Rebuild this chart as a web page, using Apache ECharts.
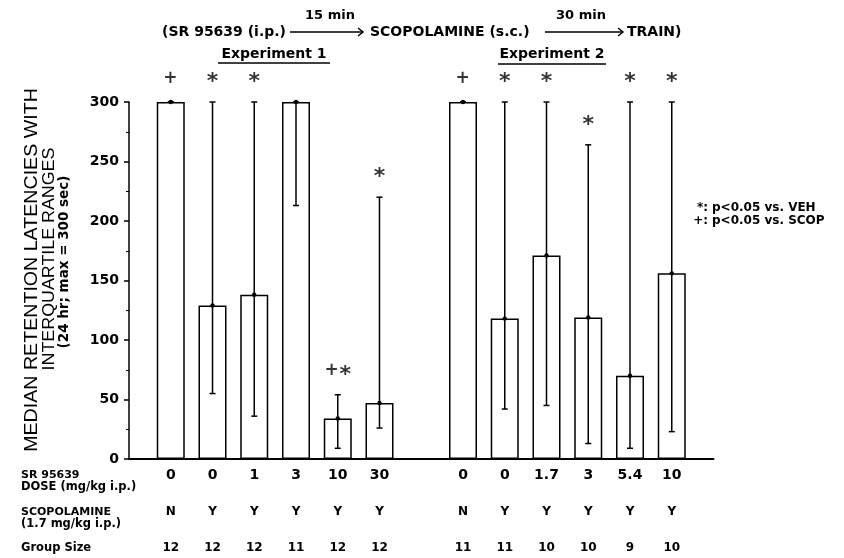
<!DOCTYPE html>
<html>
<head>
<meta charset="utf-8">
<script src="https://cdn.jsdelivr.net/npm/echarts@6/dist/echarts.min.js"></script>
<style>
  html, body { margin: 0; padding: 0; background: #fff; }
  #chart { width: 844px; height: 558px; }
</style>
</head>
<body>
<div id="chart"></div>
<script>
// groups: experiment 1 (first six) then experiment 2
const doses = ['0', '0', '1', '3', '10', '30', '0', '0', '1.7', '3', '5.4', '10'];
const scopolamine = ['N', 'Y', 'Y', 'Y', 'Y', 'Y', 'N', 'Y', 'Y', 'Y', 'Y', 'Y'];
const groupSize = [12, 12, 12, 11, 12, 12, 11, 11, 10, 10, 9, 10];
const medians = [300, 129, 138, 300, 34, 47, 300, 118, 171, 119, 70, 156];
const lowQ = [300, 55, 36, 213, 9, 26, 300, 42, 45, 13, 9, 23];
const highQ = [300, 300, 300, 300, 54, 220, 300, 300, 300, 264, 300, 300];
const signif = ['+', '*', '*', '', '+*', '*', '+', '*', '*', '*', '*', '*'];

// one empty slot between the two experiments
const slotOf = i => (i < 6 ? i + 1 : i + 2);
const FONT = 'DejaVu Sans';

const barData = medians.map((m, i) => [slotOf(i), m]);
const errData = medians.map((m, i) => [slotOf(i), lowQ[i], highQ[i], m]);
const sigData = signif.map((s, i) => [slotOf(i), highQ[i] + 20, s]);

// x position -> index of group (for the table under the axis)
const groupAt = {};
medians.forEach((m, i) => { groupAt[slotOf(i)] = i; });

const chart = echarts.init(document.getElementById('chart'));

const txt = (x, y, text, size, extra) => ({
  type: 'text', x: x, y: y, silent: true,
  style: Object.assign({
    text: text, fontFamily: FONT, fontSize: size, fontWeight: 'bold',
    fill: '#000', textAlign: 'left', textVerticalAlign: 'middle'
  }, extra || {})
});
const seg = (x1, y1, x2, y2, w) => ({
  type: 'line', silent: true,
  shape: { x1: x1, y1: y1, x2: x2, y2: y2 },
  style: { stroke: '#000', lineWidth: w || 1.5 }
});
const head = (x, y) => ({
  type: 'polyline', silent: true,
  shape: { points: [[x - 5, y - 4], [x, y], [x - 5, y + 4]] },
  style: { stroke: '#000', lineWidth: 1.5, fill: null }
});
// rotated y axis title line, stretched a bit along its length like the print
const vtxt = (x, y, text, size, stretch, weight, family) => ({
  type: 'text', x: x, y: y, rotation: Math.PI / 2, scaleX: stretch, silent: true,
  style: { text: text, fontFamily: family, fontSize: size, fontWeight: weight,
    fill: '#000', textAlign: 'center', textVerticalAlign: 'middle' }
});

// '+' and '*' marks, the asterisk drawn bigger so it reads as a blob like the print
const markText = s => s.split('').map(c => (c === '*' ? '{s|*}' : '{p|+}')).join('');

const option = {
  animation: false,
  backgroundColor: '#fff',
  grid: { left: 129, right: 130.5, top: 102, bottom: 99 },
  xAxis: {
    type: 'value', min: 0, max: 14, interval: 1,
    splitLine: { show: false },
    axisTick: { show: false },
    axisLine: { lineStyle: { color: '#000', width: 2 } },
    axisLabel: {
      margin: 4,
      color: '#000',
      fontFamily: FONT,
      fontWeight: 'bold',
      formatter: v => {
        const i = groupAt[v];
        if (i === undefined) return '';
        return '{d|' + doses[i] + '}\n{s|' + scopolamine[i] + '}\n{g|' + groupSize[i] + '}';
      },
      rich: {
        d: { fontSize: 14, lineHeight: 24, fontFamily: FONT, fontWeight: 'bold' },
        s: { fontSize: 12, lineHeight: 50, fontFamily: FONT, fontWeight: 'bold' },
        g: { fontSize: 12, lineHeight: 22, fontFamily: FONT, fontWeight: 'bold' }
      }
    }
  },
  yAxis: {
    type: 'value', min: 0, max: 300, interval: 50,
    splitLine: { show: false },
    axisLine: { show: true, lineStyle: { color: '#000', width: 1.5 } },
    axisTick: { show: true, inside: false, length: 5, lineStyle: { color: '#000', width: 1.5 } },
    minorTick: { show: true, splitNumber: 2, length: 3, lineStyle: { color: '#000', width: 1 } },
    axisLabel: { color: '#000', fontFamily: FONT, fontWeight: 'bold', fontSize: 14, margin: 10 }
  },
  series: [
    {
      type: 'bar',
      data: barData,
      barWidth: 28,
      itemStyle: { color: '#fff', borderColor: '#000', borderWidth: 1.5 },
      z: 2
    },
    {
      type: 'custom',
      data: errData,
      z: 3,
      renderItem: (params, api) => {
        const x = api.coord([api.value(0), 0])[0];
        const yLo = api.coord([0, api.value(1)])[1];
        const yHi = api.coord([0, api.value(2)])[1];
        const yMed = api.coord([0, api.value(3)])[1];
        const st = { stroke: '#000', lineWidth: 1.5 };
        return {
          type: 'group',
          children: [
            { type: 'line', shape: { x1: x, y1: yLo, x2: x, y2: yHi }, style: st },
            { type: 'line', shape: { x1: x - 3, y1: yHi, x2: x + 3, y2: yHi }, style: st },
            { type: 'line', shape: { x1: x - 3, y1: yLo, x2: x + 3, y2: yLo }, style: st },
            { type: 'circle', shape: { cx: x, cy: yMed, r: 2.2 }, style: { fill: '#000' } }
          ]
        };
      }
    },
    {
      type: 'scatter',
      data: sigData,
      symbolSize: 0,
      clip: false,
      z: 4,
      label: {
        show: true,
        position: 'inside',
        formatter: p => markText(p.value[2]),
        color: '#000',
        rich: {
          p: { fontFamily: FONT, fontWeight: 'bold', fontSize: 17, color: '#000', padding: [0, 1, 0, 0] },
          s: { fontFamily: FONT, fontWeight: 'bold', fontSize: 22, color: '#000', padding: [8, 0, 0, 0] }
        }
      }
    }
  ],
  graphic: [
    // title line with the two timing arrows
    txt(162, 32, '(SR 95639 (i.p.)', 14),
    seg(290, 32, 362, 32),
    head(363, 32),
    txt(330, 16, '15 min', 13, { textAlign: 'center' }),
    txt(370, 32, 'SCOPOLAMINE (s.c.)', 14),
    seg(545, 32, 622, 32),
    head(623, 32),
    txt(581, 16, '30 min', 13, { textAlign: 'center' }),
    txt(627, 32, 'TRAIN)', 14),
    // experiment headings
    txt(274, 54, 'Experiment 1', 14, { textAlign: 'center' }),
    seg(218, 63, 330, 63),
    txt(552, 54, 'Experiment 2', 14, { textAlign: 'center' }),
    seg(498, 64, 606, 64),
    // y axis title
    vtxt(32, 270, 'MEDIAN RETENTION LATENCIES WITH', 18, 1.09, 'normal', 'Liberation Sans'),
    vtxt(49, 259, 'INTERQUARTILE RANGES', 17, 1.05, 'normal', 'Liberation Sans'),
    vtxt(64.5, 262, '(24 hr; max = 300 sec)', 13.5, 1, 'bold', FONT),
    // legend for the markers
    txt(708, 208, '*:', 12, { textAlign: 'right' }),
    txt(712, 208, 'p<0.05 vs. VEH', 12),
    txt(708, 221, '+:', 12, { textAlign: 'right' }),
    txt(712, 221, 'p<0.05 vs. SCOP', 12),
    // row labels of the table under the axis
    txt(21, 475, 'SR 95639', 11),
    txt(21, 487, 'DOSE (mg/kg i.p.)', 11.5),
    txt(21, 512, 'SCOPOLAMINE', 11),
    txt(21, 524, '(1.7 mg/kg i.p.)', 11.5),
    txt(21, 548, 'Group Size', 11.5)
  ]
};

chart.setOption(option);
</script>
</body>
</html>
